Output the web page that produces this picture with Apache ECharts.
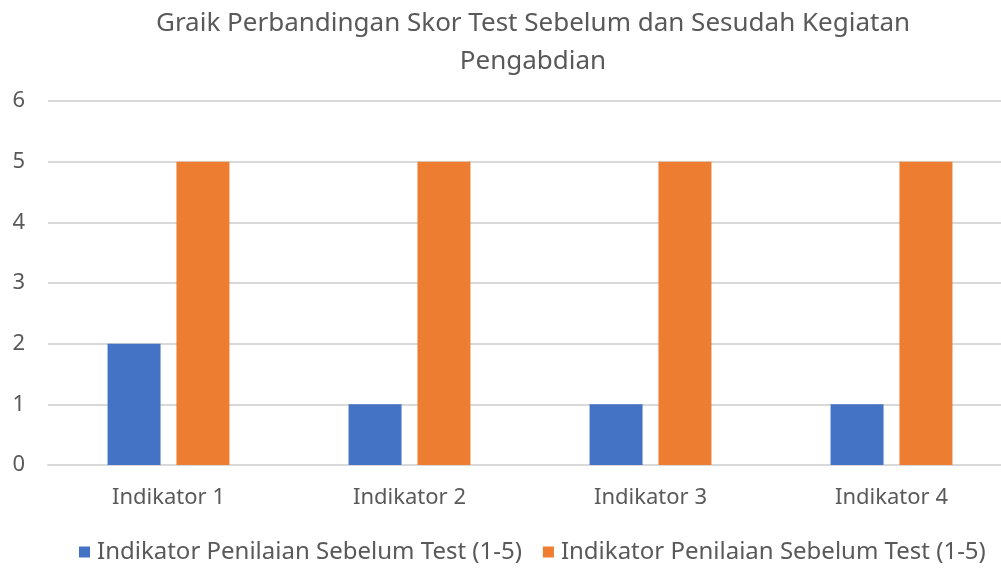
<!DOCTYPE html>
<html>
<head>
<meta charset="utf-8">
<script src="https://cdn.jsdelivr.net/npm/echarts@6/dist/echarts.min.js"></script>
<style>
  html, body { margin: 0; padding: 0; background: #fff; overflow: hidden; }
  #chart { width: 1012px; height: 569px; }
</style>
</head>
<body>
<div id="chart"></div>
<script>
  const categories = ['Indikator 1', 'Indikator 2', 'Indikator 3', 'Indikator 4'];
  const seriesNames = ['Indikator Penilaian Sebelum Test (1-5)', 'Indikator Penilaian Sebelum Test (1-5)'];
  const sebelum = [2, 1, 1, 1];
  const sesudah = [5, 5, 5, 5];
  const yTicks = [0, 1, 2, 3, 4, 5, 6];

  const chart = echarts.init(document.getElementById('chart'));
  const labelColor = '#595959';
  const font = '"Noto Sans", "Open Sans", sans-serif';

  chart.setOption({
    animation: false,
    title: {
      text: 'Graik Perbandingan Skor Test Sebelum dan Sesudah Kegiatan\nPengabdian',
      left: 528,
      textAlign: 'center',
      top: 0,
      textStyle: {
        color: labelColor,
        fontSize: 26,
        fontWeight: 'normal',
        fontFamily: font,
        lineHeight: 38
      }
    },
    legend: {
      top: 535,
      left: 74,
      itemWidth: 11,
      itemHeight: 11,
      itemGap: 21,
      icon: 'rect',
      data: ['s0', 's1'],
      formatter: function (name) {
        return seriesNames[Number(name.slice(1))];
      },
      textStyle: { color: labelColor, fontSize: 24, fontFamily: font, padding: [0, 0, 0, 2] }
    },
    grid: {
      left: 48,
      right: 0,
      top: 101,
      height: 364,
      containLabel: false
    },
    xAxis: {
      type: 'category',
      data: categories,
      axisLine: { lineStyle: { color: '#d9d9d9', width: 2 } },
      axisTick: { show: false },
      axisLabel: { color: labelColor, fontSize: 22, fontFamily: font, margin: 22 }
    },
    yAxis: {
      type: 'value',
      min: yTicks[0],
      max: yTicks[yTicks.length - 1],
      interval: 1,
      axisLine: { show: false },
      axisTick: { show: false },
      splitLine: { lineStyle: { color: '#d9d9d9', width: 2 } },
      axisLabel: { color: labelColor, fontSize: 22, fontFamily: font, margin: 23 }
    },
    series: [
      {
        name: 's0',
        type: 'bar',
        data: sebelum,
        barWidth: 53,
        barGap: '30%',
        itemStyle: { color: '#4472C4' }
      },
      {
        name: 's1',
        type: 'bar',
        data: sesudah,
        barWidth: 53,
        barGap: '30%',
        itemStyle: { color: '#ED7D31' }
      }
    ]
  });
</script>
</body>
</html>
